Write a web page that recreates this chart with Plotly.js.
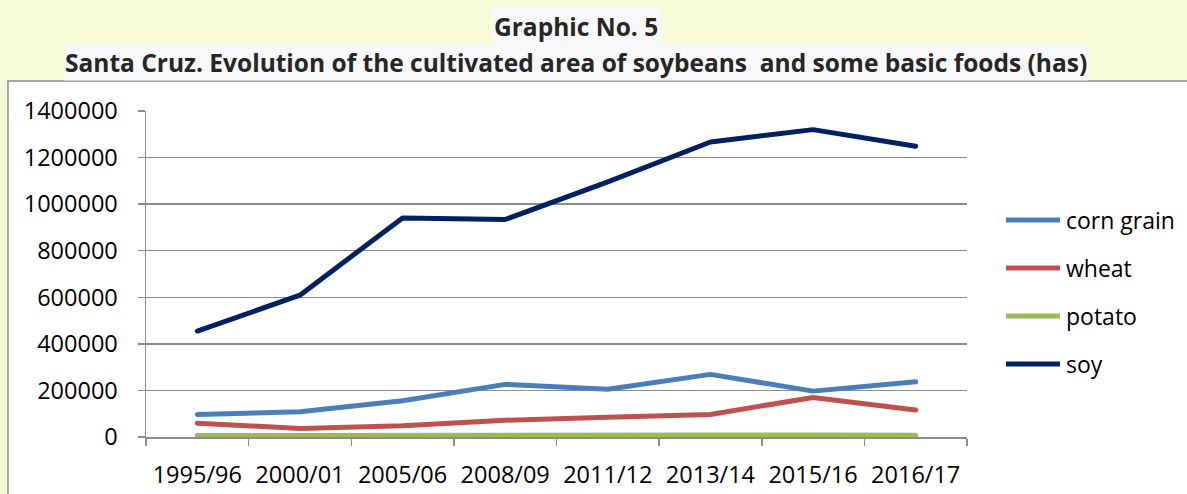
<!DOCTYPE html>
<html>
<head>
<meta charset="utf-8">
<script src="https://cdn.plot.ly/plotly-3.0.1.min.js"></script>
<style>
  html, body { margin: 0; padding: 0; background: #F8FBD7; }
  #chart { width: 1187px; height: 494px; }
  #chart .scatterlayer path.js-line { stroke-linecap: round; stroke-linejoin: round; }
</style>
</head>
<body>
<div id="chart"></div>
<script>
// Cultivated area in Santa Cruz, hectares per campaign
const campaigns = ["1995/96", "2000/01", "2005/06", "2008/09", "2011/12", "2013/14", "2015/16", "2016/17"];
const cornGrain = [97000, 108000, 156000, 226000, 205000, 269000, 197000, 237000];
const wheat     = [59000, 37000, 48000, 72000, 85000, 97000, 170000, 116000];
const potato    = [6000, 5500, 6500, 7000, 8000, 8500, 9000, 8000];
const soy       = [455000, 609000, 941000, 934000, 1096000, 1267000, 1320000, 1249000];

const seriesNames  = ["corn grain", "wheat", "potato", "soy"];
const seriesValues = [cornGrain, wheat, potato, soy];
const seriesColors = ["#4A7EBB", "#C0504D", "#9BBB59", "#002060"];

const yTicks = [0, 200000, 400000, 600000, 800000, 1000000, 1200000, 1400000];

// Page geometry (pixels) and conversion into paper coordinates
const W = 1187, H = 494;
const M = { l: 146, r: 220, t: 111, b: 57 };
const PW = W - M.l - M.r, PH = H - M.t - M.b;
const px = x => (x - M.l) / PW;
const py = y => (H - M.b - y) / PH;

const font = "'Open Sans', 'Liberation Sans', sans-serif";
const grid = "#8C8C8C";
const labelSize = 23.5;

const traces = seriesNames.map((name, i) => ({
  type: "scatter",
  mode: "lines",
  name: name,
  x: campaigns,
  y: seriesValues[i],
  line: { color: seriesColors[i], width: 5 },
  cliponaxis: false,
  showlegend: false
}));

const shapes = [
  // white chart frame
  { type: "rect", xref: "paper", yref: "paper", layer: "below",
    x0: px(8), x1: px(1200), y0: py(510), y1: py(81),
    fillcolor: "#FFFFFF", line: { color: "#8C8C8C", width: 1.5 } }
];

const annotations = [
  { xref: "paper", yref: "paper", x: px(576), y: py(27), xanchor: "center", yanchor: "middle",
    text: "<b>Graphic No. 5</b>", showarrow: false, bgcolor: "#F7F8FA", borderpad: 2,
    font: { family: font, size: 24.5, color: "#262626" } },
  { xref: "paper", yref: "paper", x: px(576), y: py(63), xanchor: "center", yanchor: "middle",
    text: "<b>Santa Cruz. Evolution of the cultivated area of soybeans  and some basic foods (has)</b>",
    showarrow: false, bgcolor: "#F7F8FA", borderpad: 1,
    font: { family: font, size: 24.5, color: "#262626" } }
];

// Legend: a line sample and the series name for each series
const legendY = [220, 268, 316, 364];
seriesNames.forEach((name, i) => {
  shapes.push({ type: "line", xref: "paper", yref: "paper",
    x0: px(1006), x1: px(1060), y0: py(legendY[i]), y1: py(legendY[i]),
    line: { color: seriesColors[i], width: 5 } });
  annotations.push({ xref: "paper", yref: "paper", x: px(1064), y: py(legendY[i]),
    xanchor: "left", yanchor: "middle", text: name, showarrow: false,
    font: { family: font, size: 23, color: "#000000" } });
});

const layout = {
  width: W, height: H,
  margin: M,
  paper_bgcolor: "#F8FBD7",
  plot_bgcolor: "#FFFFFF",
  showlegend: false,
  font: { family: font, size: labelSize, color: "#000000" },
  xaxis: {
    type: "category",
    range: [-0.5, campaigns.length - 0.5],
    tickson: "boundaries",
    layer: "below traces",
    ticks: "outside", ticklen: 7, tickcolor: grid, tickwidth: 1.5,
    showline: true, linecolor: grid, linewidth: 1.5,
    showgrid: false, zeroline: false,
    ticklabelstandoff: 16,
    tickfont: { family: font, size: labelSize, color: "#000000" }
  },
  yaxis: {
    range: [0, 1400000],
    tickvals: yTicks,
    tickformat: "d",
    layer: "below traces",
    ticks: "outside", ticklen: 7, tickcolor: grid, tickwidth: 1.5,
    showline: true, linecolor: grid, linewidth: 1.5,
    showgrid: true, gridcolor: grid, gridwidth: 1.5,
    zeroline: false,
    ticklabelstandoff: 15,
    tickfont: { family: font, size: labelSize, color: "#000000" }
  },
  shapes: shapes,
  annotations: annotations
};

Plotly.newPlot("chart", traces, layout, { displayModeBar: false, staticPlot: true });
</script>
</body>
</html>
